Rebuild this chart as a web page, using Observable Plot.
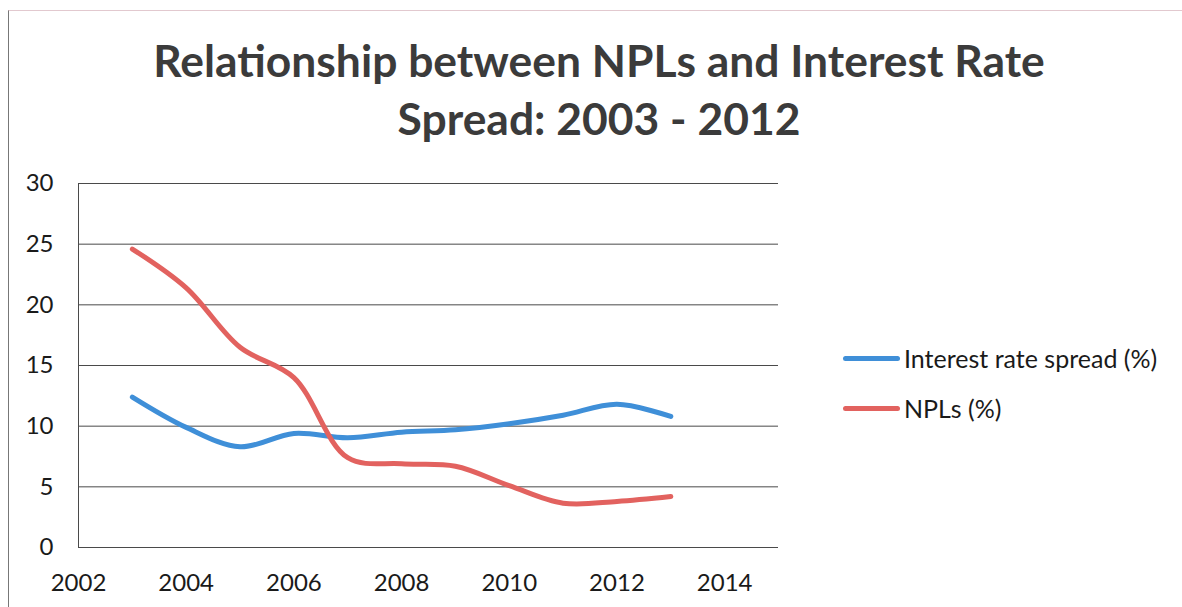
<!DOCTYPE html>
<html>
<head>
<meta charset="utf-8">
<script src="https://cdn.jsdelivr.net/npm/d3@7"></script>
<script src="https://cdn.jsdelivr.net/npm/@observablehq/plot@0.6"></script>
<style>
  html, body { margin: 0; padding: 0; background: #fff; }
  #wrap { position: relative; width: 1182px; height: 607px; overflow: hidden; background: #fff; font-family: Lato, "Open Sans", sans-serif; }
  #frame { position: absolute; left: 8px; top: 10px; width: 1200px; height: 620px; border-left: 1.5px solid #777; border-top: 1px solid #e2c9cf; }
  .title { position: absolute; left: 0; width: 1200px; text-align: center; font-weight: bold; color: #3b3b3b; white-space: nowrap; }
  #chart { position: absolute; left: 0; top: 150px; }
  .leg { position: absolute; left: 843px; height: 30px; display: flex; align-items: center; font-size: 25px; color: #1a1a1a; white-space: nowrap; }
  .leg .sw { width: 57px; height: 5px; border-radius: 3px; margin-right: 4px; }
</style>
</head>
<body>
<div id="wrap">
  <div id="frame"></div>
  <div class="title" id="t1">Relationship between NPLs and Interest Rate</div>
  <div class="title" id="t2">Spread: 2003 - 2012</div>
  <div id="chart"></div>
  <div class="leg" id="l1"></div>
  <div class="leg" id="l2"></div>
</div>
<script>
const years = [2003, 2004, 2005, 2006, 2007, 2008, 2009, 2010, 2011, 2012, 2013];
const spread = [12.4, 9.9, 8.3, 9.4, 9.05, 9.5, 9.7, 10.2, 10.9, 11.8, 10.8];
const npls = [24.6, 21.4, 16.5, 14.0, 7.4, 6.9, 6.7, 5.1, 3.65, 3.8, 4.2];
const seriesNames = ["Interest rate spread (%)", "NPLs (%)"];
const seriesColors = ["#3f8fd8", "#e2625f"];
const xTicks = [2002, 2004, 2006, 2008, 2010, 2012, 2014];
const yTicks = [0, 5, 10, 15, 20, 25, 30];
const titleLines = ["Relationship between NPLs and Interest Rate", "Spread: 2003 - 2012"];

const rows = [];
years.forEach((y, i) => {
  rows.push({year: y, value: spread[i], series: seriesNames[0]});
  rows.push({year: y, value: npls[i], series: seriesNames[1]});
});

// title sizing
const cv = document.createElement("canvas").getContext("2d");
cv.font = "bold 100px Lato";
const w1 = cv.measureText(titleLines[0]).width;
const fs = Math.round(100 * 892 / w1 * 10) / 10;
const t1 = document.getElementById("t1"), t2 = document.getElementById("t2");
t1.style.fontSize = fs + "px"; t2.style.fontSize = fs + "px";
t1.style.left = "-1px"; t2.style.left = "-1px";
t1.style.top = (77 - fs * 1.0) + "px";
t2.style.top = (135 - fs * 1.0) + "px";
t1.style.lineHeight = "1.2"; t2.style.lineHeight = "1.2";

const chart = Plot.plot({
  width: 800,
  height: 447,
  marginLeft: 78,
  marginRight: 22,
  marginTop: 33,
  marginBottom: 50,
  style: {fontFamily: "Lato, 'Open Sans', sans-serif", fontSize: "24px", color: "#1a1a1a", background: "transparent"},
  x: {domain: [2002, 2015]},
  y: {domain: [0, 30]},
  color: {domain: seriesNames, range: seriesColors},
  marks: [
    Plot.gridY(yTicks, {stroke: "#4a4a4a", strokeOpacity: 1, strokeWidth: 1}),
    Plot.ruleX([2002], {stroke: "#4a4a4a", strokeWidth: 1}),
    Plot.axisY({ticks: yTicks, tickSize: 0, tickPadding: 25, label: null}),
    Plot.axisX({ticks: xTicks, tickSize: 0, tickPadding: 26, tickFormat: "d", label: null}),
    Plot.line(rows, {x: "year", y: "value", z: "series", stroke: "series", strokeWidth: 5, curve: "catmull-rom", strokeLinecap: "round"})
  ]
});
document.getElementById("chart").appendChild(chart);

// legend
[["l1", 0, 358], ["l2", 1, 408]].forEach(([id, i, cy]) => {
  const el = document.getElementById(id);
  el.style.top = (cy - 15) + "px";
  el.innerHTML = `<span class="sw" style="background:${seriesColors[i]}"></span><span>${seriesNames[i]}</span>`;
});
</script>
</body>
</html>
